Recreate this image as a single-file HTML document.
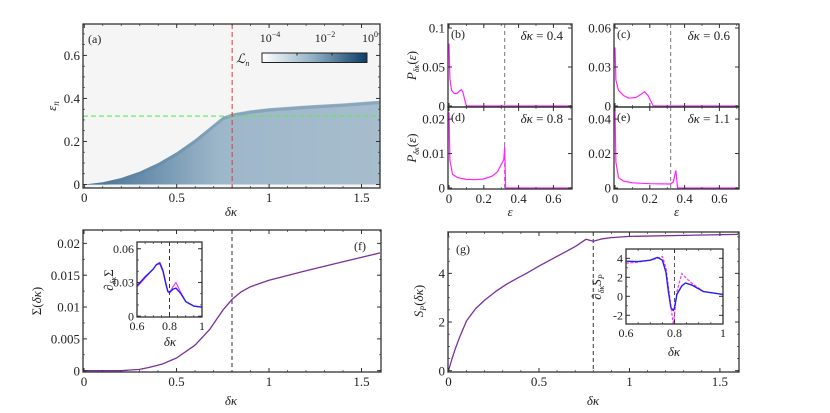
<!DOCTYPE html>
<html><head><meta charset="utf-8"><style>
body{margin:0;background:#fff;width:830px;height:413px;overflow:hidden}
svg{display:block;font-family:"Liberation Serif",serif}
</style></head><body>
<svg id="fig" width="830" height="413" viewBox="0 0 830 413">
<defs>
<linearGradient id="cb" x1="0" x2="1" y1="0" y2="0"><stop offset="0" stop-color="#ffffff"/><stop offset="0.5" stop-color="#8eadc4"/><stop offset="1" stop-color="#0c3c66"/></linearGradient>
<linearGradient id="hm" x1="0" x2="1" y1="0" y2="0"><stop offset="0" stop-color="#3f6d93"/><stop offset="0.45" stop-color="#9db7ca"/><stop offset="1" stop-color="#a7bdcd"/></linearGradient>
<clipPath id="clipA"><rect x="83" y="24" width="297" height="164"/></clipPath>
</defs>
</svg>
<script>
// ---------- data ----------
const heatKappa=[0,0.1,0.2,0.3,0.4,0.5,0.6,0.7,0.75,0.8,0.9,1.0,1.2,1.4,1.6];
const heatEdge=[0,0.01,0.03,0.06,0.1,0.15,0.21,0.28,0.315,0.33,0.345,0.355,0.367,0.377,0.39];
const epsB=[0,0.005,0.015,0.03,0.045,0.06,0.07,0.08,0.09,0.1,0.7];
const pB=[0.08,0.035,0.02,0.016,0.016,0.019,0.021,0.018,0.008,0,0];
const epsC=[0,0.005,0.02,0.05,0.08,0.12,0.15,0.17,0.19,0.22,0.7];
const pC=[0.045,0.02,0.012,0.008,0.006,0.0065,0.009,0.011,0.008,0,0];
const epsD=[0,0.005,0.02,0.05,0.1,0.15,0.2,0.25,0.28,0.3,0.315,0.32,0.325,0.7];
const pD=[0.022,0.008,0.004,0.003,0.0025,0.0024,0.0026,0.0035,0.0048,0.0068,0.0082,0.012,0,0];
const epsE=[0,0.005,0.02,0.05,0.1,0.2,0.32,0.335,0.345,0.35,0.36,0.7];
const pE=[0.045,0.015,0.006,0.004,0.003,0.0025,0.0023,0.0035,0.008,0.01,0,0];
const kappaF=[0,0.2,0.3,0.35,0.42,0.5,0.6,0.68,0.75,0.8,0.85,0.9,1.0,1.2,1.4,1.6];
const sigmaF=[0,0,0.0002,0.0005,0.001,0.002,0.004,0.0065,0.0095,0.0112,0.0124,0.0132,0.0142,0.0157,0.0171,0.0185];
const kappaFi=[0.6,0.65,0.7,0.72,0.74,0.76,0.78,0.79,0.8,0.82,0.84,0.87,0.9,0.95,1.0];
const dSigBlue=[0.027,0.035,0.042,0.046,0.047,0.04,0.027,0.022,0.021,0.024,0.025,0.02,0.013,0.009,0.008];
const dSigMag=[0.026,0.034,0.042,0.046,0.048,0.041,0.028,0.022,0.021,0.026,0.03,0.021,0.013,0.009,0.008];
const kappaG=[0,0.02,0.04,0.06,0.1,0.15,0.2,0.26,0.32,0.38,0.43,0.5,0.6,0.7,0.76,0.8,0.85,0.9,1.0,1.3,1.6];
const spG=[0,0.5,0.95,1.35,2.05,2.55,2.9,3.25,3.55,3.8,4.0,4.3,4.7,5.1,5.4,5.32,5.42,5.47,5.52,5.56,5.6];
const kappaGi=[0.6,0.65,0.7,0.73,0.75,0.765,0.775,0.785,0.795,0.8,0.81,0.83,0.845,0.87,0.92,1.0];
const dSpBlue=[3.7,3.65,3.8,4.1,3.8,2.5,0.5,-1.2,-1.5,-1.2,0.2,1.1,1.4,1.2,0.5,0.2];
const dSpMag=[3.5,3.6,3.8,4.0,4.2,3.0,1.0,-1.0,-3.0,-2.0,0.5,2.4,2.0,1.4,0.5,0.2];

// ---------- helpers ----------
const svg=document.getElementById('fig');const NS='http://www.w3.org/2000/svg';
function mk(tag,attrs,parent){const e=document.createElementNS(NS,tag);for(const k in attrs)e.setAttribute(k,attrs[k]);(parent||svg).appendChild(e);return e;}
function txt(s,x,y,size,anchor,parent,rot){const t=mk('text',{x:x,y:y,'font-size':size,'text-anchor':anchor||'middle',fill:'#222'},parent);if(rot)t.setAttribute('transform','rotate(-90 '+x+' '+y+')');t.innerHTML=s;return t;}
function ax(x0,x1,v0,v1){return v=>x0+(v-v0)/(v1-v0)*(x1-x0);}
function pathOf(xs,ys,sx,sy){return xs.map((v,i)=>(i?'L':'M')+sx(v).toFixed(1)+','+sy(ys[i]).toFixed(1)).join('');}
function frame(name){const g=mk('g',{});return g;}
function drawAxes(g,L,T,R,B,sx,sy,xt,xlab,yt,ylab,xmin,ymin,fs){
  fs=fs||13;
  xmin.forEach(v=>{const x=sx(v);if(x<L-0.5||x>R+0.5)return;mk('line',{x1:x,x2:x,y1:B,y2:B-2,stroke:'#333','stroke-width':0.7},g);mk('line',{x1:x,x2:x,y1:T,y2:T+2,stroke:'#333','stroke-width':0.7},g);});
  ymin.forEach(v=>{const y=sy(v);if(y<T-0.5||y>B+0.5)return;mk('line',{x1:L,x2:L+2,y1:y,y2:y,stroke:'#333','stroke-width':0.7},g);mk('line',{x1:R,x2:R-2,y1:y,y2:y,stroke:'#333','stroke-width':0.7},g);});
  xt.forEach((v,i)=>{const x=sx(v);mk('line',{x1:x,x2:x,y1:B,y2:B-4,stroke:'#333'},g);mk('line',{x1:x,x2:x,y1:T,y2:T+4,stroke:'#333'},g);if(xlab)txt(xlab[i],x,B+fs+1,fs,'middle',g);});
  yt.forEach((v,i)=>{const y=sy(v);mk('line',{x1:L,x2:L+4,y1:y,y2:y,stroke:'#333'},g);mk('line',{x1:R,x2:R-4,y1:y,y2:y,stroke:'#333'},g);if(ylab)txt(ylab[i],L-3,y+fs*0.35,fs,'end',g);});
  mk('rect',{x:L,y:T,width:R-L,height:B-T,fill:'none',stroke:'#333','stroke-width':1.3},g);
}
function rng(a,b,s){const r=[];for(let v=a;v<=b+1e-9;v+=s)r.push(+v.toFixed(4));return r;}
function line(g,xs,ys,sx,sy,col,w,name,dash){const p=mk('path',{d:pathOf(xs,ys,sx,sy),fill:'none',stroke:col,'stroke-width':w||1.2,'stroke-linejoin':'round'},g);if(dash)p.setAttribute('stroke-dasharray',dash);return p;}
function vdash(g,x,T,B,col,dash,name){const l=mk('line',{x1:x,x2:x,y1:T,y2:B,stroke:col,'stroke-width':1,'stroke-dasharray':dash||'4,3'},g);}

// ---------- panel a ----------
(function(){
 const L=83,T=24,R=380,B=188;const sx=ax(84.3,380,0,1.6),sy=ax(184.5,24,0,0.746);
 const g=frame('panel-a');
 mk('rect',{x:L,y:T,width:R-L,height:B-T,fill:'#f5f5f5'},g);
 const gc=mk('g',{'clip-path':'url(#clipA)'},g);
 let d=pathOf(heatKappa,heatEdge,sx,sy)+'L'+sx(1.62)+','+sy(heatEdge[heatEdge.length-1])+'L'+sx(1.62)+','+sy(0)+'L'+sx(0)+','+sy(0)+'Z';
 const hm=mk('path',{d:d,fill:'url(#hm)'},gc);
 mk('path',{d:pathOf(heatKappa,heatEdge,sx,sy),fill:'none',stroke:'#55819f','stroke-width':3,opacity:0.35,transform:'translate(0,2)'},gc);
 mk('line',{x1:sx(0),x2:R,y1:sy(0)+1.5,y2:sy(0)+1.5,stroke:'#f5f5f5','stroke-width':2},gc);
 const gl=mk('line',{x1:L,x2:R,y1:sy(0.318),y2:sy(0.318),stroke:'#5ee85e','stroke-width':1.2,'stroke-dasharray':'5,3'},g);
 vdash(g,sx(0.8),T,B,'#ee3333','5,3','red-critical-line');
 drawAxes(g,L,T,R,B,sx,sy,[0,0.5,1,1.5],['0','0.5','1','1.5'],[0,0.2,0.4,0.6],['0','0.2','0.4','0.6'],rng(0,1.6,0.1),rng(0,0.7,0.05));
 txt('(a)',88,43,12,'start',g);
 txt('<tspan font-style="italic">δκ</tspan>',231,216,13,'middle',g);
 txt('<tspan font-style="italic">ε</tspan><tspan font-size="9" dy="3" font-style="italic">n</tspan>',56,106,13,'middle',g,true);
 const cb=mk('rect',{x:262,y:53,width:105,height:9.5,fill:'url(#cb)',stroke:'#222','stroke-width':1},g);
 [262,297,332,367].forEach(x=>mk('line',{x1:x,x2:x,y1:53,y2:55.5,stroke:'#222'},g));
 txt('10<tspan font-size="8" dy="-5">−4</tspan>',270,42,12,'middle',g);
 txt('10<tspan font-size="8" dy="-5">−2</tspan>',325,42,12,'middle',g);
 txt('10<tspan font-size="8" dy="-5">0</tspan>',370,42,12,'middle',g);
 txt('<tspan font-style="italic">ℒ</tspan><tspan font-size="8" dy="3" font-style="italic">n</tspan>',236,63,13,'start',g);
})();

// ---------- panels b-e ----------
function smallPanel(name,lab,kap,L,T,R,B,ytop,yt,ylab,xs,ys,showX,showY){
 const g=frame(name);const sx=ax(L+1,L+1+174*0.7,0,0.7),sy=ax(B-1,T,0,ytop);
 vdash(g,sx(0.32),T,B,'#777','4,3',name+'-dashed-line');
 line(g,xs,ys,sx,sy,'#ff22ff',1.2,name+'-curve');
 drawAxes(g,L,T,R,B,sx,sy,[0,0.2,0.4,0.6],showX?['0','0.2','0.4','0.6']:null,yt,ylab,rng(0,0.7,0.1),[]);
 txt(lab,L+3,T+14,12,'start',g);
 txt('<tspan font-style="italic">δκ</tspan> = '+kap,R-9,T+16,13,'end',g);
 if(showY)txt('<tspan font-style="italic">P</tspan><tspan font-size="8" dy="3" font-style="italic">δκ</tspan><tspan dy="-3">(<tspan font-style="italic">ε</tspan>)</tspan>',416,(T+B)/2,13,'middle',g,true);
 if(showX)txt('<tspan font-style="italic">ε</tspan>',(L+R)/2,B+27,13,'middle',g);
}
smallPanel('panel-b','(b)','0.4',448,24,572,107,0.1*(82/78),[0,0.05,0.1],['0','0.05','0.1'],epsB,pB,false,true);
smallPanel('panel-c','(c)','0.6',614,24,739,107,0.06*(82/78),[0,0.03,0.06],['0','0.03','0.06'],epsC,pC,false,false);
smallPanel('panel-d','(d)','0.8',448,107,572,189,0.0235,[0,0.01,0.02],['0','0.01','0.02'],epsD,pD,true,true);
smallPanel('panel-e','(e)','1.1',614,107,739,189,0.047,[0,0.02,0.04],['0','0.02','0.04'],epsE,pE,true,false);

// ---------- panel f ----------
(function(){
 const L=83,T=230,R=381,B=372;const sx=ax(84,380,0,1.6),sy=ax(370.7,230,0,0.0221);
 const g=frame('panel-f');
 vdash(g,sx(0.8),T,B,'#333','4,3','f-critical-line');
 line(g,kappaF,sigmaF,sx,sy,'#7b2f9a',1.3,'sigma-curve');
 drawAxes(g,L,T,R,B,sx,sy,[0,0.5,1,1.5],['0','0.5','1','1.5'],[0,0.005,0.01,0.015,0.02],['0','0.005','0.01','0.015','0.02'],rng(0,1.6,0.1),rng(0,0.022,0.0025));
 txt('(f)',360,250,12,'middle',g);
 txt('<tspan font-style="italic">δκ</tspan>',231,405,13,'middle',g);
 txt('Σ(<tspan font-style="italic">δκ</tspan>)',41,301,13,'middle',g,true);
 const iL=137,iT=242,iR=202,iB=317;const ix=ax(iL,iR,0.6,1),iy=ax(316.2,iT,0,0.066);
 const gi=frame('inset-f');mk('rect',{x:iL,y:iT,width:iR-iL,height:iB-iT,fill:'#fff'},gi);
 vdash(gi,ix(0.8),iT,iB,'#333','4,3','inset-f-critical-line');
 line(gi,kappaFi,dSigMag,ix,iy,'#ff33ff',1.2,'inset-f-magenta');
 line(gi,kappaFi,dSigBlue,ix,iy,'#2222ee',1.4,'inset-f-blue');
 drawAxes(gi,iL,iT,iR,iB,ix,iy,[0.6,0.8,1],['0.6','0.8','1'],[0,0.03,0.06],['0','0.03','0.06'],rng(0.6,1,0.05),rng(0,0.06,0.01),12);
 txt('<tspan font-style="italic">δκ</tspan>',170,346,13,'middle',gi);
 txt('∂<tspan font-size="8" dy="3" font-style="italic">δκ</tspan><tspan dy="-3">Σ</tspan>',113,280,13,'middle',gi,true);
})();

// ---------- panel g ----------
(function(){
 const L=448,T=232,R=739,B=372;const sx=ax(448.5,738,0,1.6),sy=ax(370.7,232,0,5.7);
 const g=frame('panel-g');
 vdash(g,sx(0.8),T,B,'#333','4,3','g-critical-line');
 line(g,kappaG,spG,sx,sy,'#7b2f9a',1.3,'entropy-curve');
 drawAxes(g,L,T,R,B,sx,sy,[0,0.5,1,1.5],['0','0.5','1','1.5'],[0,2,4],['0','2','4'],rng(0,1.6,0.1),rng(0,5.5,0.5));
 txt('(g)',463,253,12,'middle',g);
 txt('<tspan font-style="italic">δκ</tspan>',593,405,13,'middle',g);
 txt('<tspan font-style="italic">S</tspan><tspan font-size="8" dy="3" font-style="italic">P</tspan><tspan dy="-3">(<tspan font-style="italic">δκ</tspan>)</tspan>',423,301,13,'middle',g,true);
 const iL=626,iT=249,iR=723,iB=324;const ix=ax(iL,iR,0.6,1),iy=ax(296.3,277.3,0,2);
 const gi=frame('inset-g');mk('rect',{x:iL,y:iT,width:iR-iL,height:iB-iT,fill:'#fff'},gi);
 const cp=mk('clipPath',{id:'clipG'},gi);mk('rect',{x:iL,y:iT,width:iR-iL,height:iB-iT},cp);
 const gc=mk('g',{'clip-path':'url(#clipG)'},gi);
 vdash(gc,ix(0.8),iT,iB,'#555','4,3','inset-g-critical-line');
 line(gc,kappaGi,dSpMag,ix,iy,'#ff33ff',1.2,'inset-g-magenta','3,1.5');
 line(gc,kappaGi,dSpBlue,ix,iy,'#2222ee',1.4,'inset-g-blue');
 drawAxes(gi,iL,iT,iR,iB,ix,iy,[0.6,0.8,1],['0.6','0.8','1'],[-2,0,2,4],['-2','0','2','4'],rng(0.6,1,0.05),rng(-2,4,1),12);
 txt('<tspan font-style="italic">δκ</tspan>',674,356,13,'middle',gi);
 txt('∂<tspan font-size="8" dy="3" font-style="italic">δκ</tspan><tspan dy="-3"><tspan font-style="italic">S</tspan><tspan font-size="8" dy="3" font-style="italic">P</tspan></tspan>',601,287,13,'middle',gi,true);
})();
</script>
</body></html>
